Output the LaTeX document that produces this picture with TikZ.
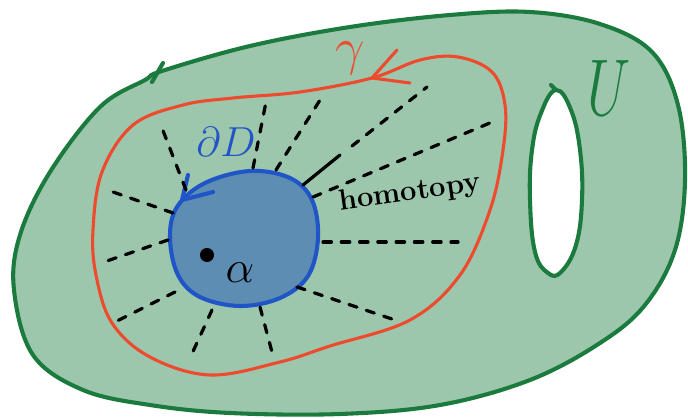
\documentclass[tikz,border=0pt]{standalone}
\usepackage{amsmath}
\usepackage{tikz}
\usepackage{xcolor}
\usetikzlibrary{arrows.meta,positioning}

\definecolor{regionfill}{HTML}{9CC7AC}
\definecolor{regionline}{HTML}{1B7A3E}
\definecolor{loopred}{HTML}{EE4A2E}
\definecolor{diskline}{HTML}{1F55C6}
\definecolor{diskfill}{HTML}{5E8DB4}

\tikzset{
  radial/.style={line width=2.3pt, black, dash pattern=on 6pt off 7pt},
  bigmath/.style={inner sep=0pt, font=\Huge}
}

\begin{document}
\begin{tikzpicture}[x=0.025cm, y=-0.025cm, line cap=round, line join=round]
  \useasboundingbox (0,0) rectangle (688,418);

  \coordinate (center) at (245,238);
  \coordinate (gammatip) at (372,78);
  \coordinate (disktip) at (182,200);

  \filldraw[fill=regionfill, draw=regionline, line width=2.9pt]
    plot[smooth cycle, tension=0.6] coordinates {
      (162,71) (250,46) (350,27) (450,15) (530,12) (600,24) (652,52)
      (678,105) (685,180) (675,250) (645,305) (600,343) (530,380)
      (440,405) (340,414) (230,413) (150,405) (83,390) (33,355)
      (14,290) (20,235) (50,172) (100,107) (145,80)};
  \draw[regionline, line width=2.9pt] (152,82) -- (163,63);

  \filldraw[fill=white, draw=regionline, line width=2.9pt]
    plot[smooth cycle, tension=0.7] coordinates {
      (556,90) (571,110) (580,150) (582,200) (576,245) (561,272)
      (548,273) (535,252) (530,200) (532,150) (541,113)};
  \draw[regionline, line width=2.9pt] (556,90) -- (551,85);

  \draw[loopred, line width=2.2pt]
    plot[smooth cycle, tension=0.6] coordinates {
      (372,78) (300,92) (233,98) (183,105) (133,125) (102,172) (93,230)
      (96,275) (112,323) (150,357) (210,375) (280,362) (330,346)
      (410,320) (460,275) (490,210) (503,150) (505,105) (492,72)
      (458,57) (420,60)};
  \draw[loopred, line width=2.2pt] (397,50) -- (gammatip) -- (410,83);

  \filldraw[fill=diskfill, draw=diskline, line width=2.9pt]
    plot[smooth cycle, tension=0.6] coordinates {
      (250,171) (290,178) (312,200) (318,238) (308,276) (280,298)
      (240,306) (200,297) (178,275) (170,238) (177,207) (205,183)};
  \draw[diskline, line width=2.9pt] (188,175) -- (disktip) -- (213,192);

  \draw[radial] (186,190) -- (162,128);
  \draw[radial] (173,213) -- (113,192);
  \draw[radial] (168,240) -- (101,263);
  \draw[radial] (175,292) -- (113,323);
  \draw[radial] (212,310) -- (190,358);
  \draw[radial] (260,307) -- (272,352);
  \draw[radial] (297,287) -- (395,320);
  \draw[radial] (323,242) -- (458,242);
  \draw[radial] (313,197) -- (497,120);
  \draw[line width=2.3pt] (303,185) -- (340,155);
  \draw[radial] (352,146) -- (427,87);
  \draw[radial] (276,170) -- (320,100);
  \draw[radial] (253,168) -- (267,97);

  \fill[black] (207,255) circle (5pt);

  \node[bigmath, text=loopred, scale=1.5] (gamma) at (350,58) {$\gamma$};
  \node[bigmath, text=diskline, scale=1.2] (dD) at (226,142) {$\partial D$};
  \node[bigmath, text=regionline, xscale=1.6, yscale=2.3] (U) at (609,88) {$U$};
  \node[bigmath, scale=1.3] (alpha) at (240,273) {$\alpha$};
  \node[bigmath, font=\huge\bfseries, rotate=8] (homotopy)
    at (410,193) {homotopy};
\end{tikzpicture}
\end{document}
